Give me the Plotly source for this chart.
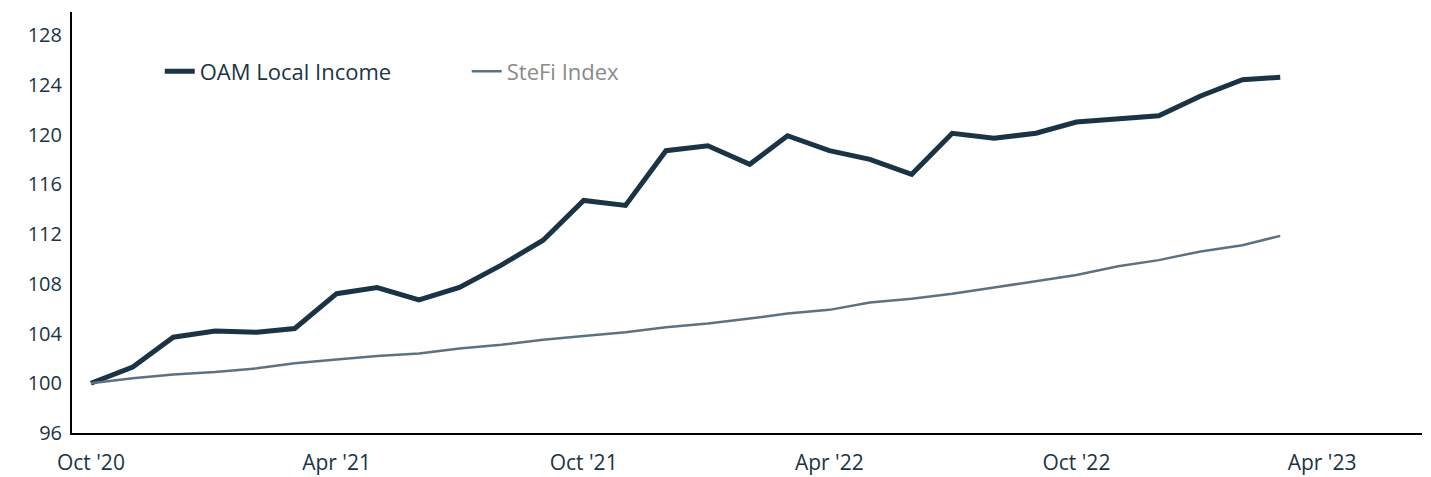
import plotly.graph_objects as go
import pandas as pd

months = pd.date_range("2020-10-01", periods=30, freq="MS").strftime("%Y-%m-%d").tolist()

oam_local_income = [100.0, 101.3, 103.7, 104.2, 104.1, 104.4, 107.2, 107.7, 106.7, 107.7,
                    109.5, 111.5, 114.7, 114.3, 118.7, 119.1, 117.6, 119.9, 118.7, 118.0,
                    116.8, 120.1, 119.7, 120.1, 121.0, 121.3, 121.5, 123.1, 124.4, 124.6]

stefi_index = [100.0, 100.4, 100.7, 100.9, 101.2, 101.6, 101.9, 102.2, 102.4, 102.8,
               103.1, 103.5, 103.8, 104.1, 104.5, 104.8, 105.2, 105.6, 105.9, 106.5,
               106.8, 107.2, 107.7, 108.2, 108.7, 109.4, 109.9, 110.6, 111.1, 111.85]

tick_dates = ["2020-10-01", "2021-04-01", "2021-10-01", "2022-04-01", "2022-10-01", "2023-04-01"]
tick_labels = ["Oct '20", "Apr '21", "Oct '21", "Apr '22", "Oct '22", "Apr '23"]
y_ticks = [96, 100, 104, 108, 112, 116, 120, 124, 128]

FONT = "Open Sans, sans-serif"
NAVY = "#1b3445"

fig = go.Figure()
fig.add_trace(go.Scatter(x=months, y=oam_local_income, mode="lines", name="OAM Local Income",
                         line=dict(color=NAVY, width=5)))
fig.add_trace(go.Scatter(x=months, y=stefi_index, mode="lines",
                         name="<span style='color:#8a8a8a'>SteFi Index</span>",
                         line=dict(color="#5c7283", width=2.5)))

fig.update_layout(
    width=1431, height=477,
    margin=dict(l=72, r=9, t=12, b=44),
    paper_bgcolor="white", plot_bgcolor="white",
    font=dict(family=FONT, size=20, color=NAVY),
    showlegend=True,
    legend=dict(orientation="h", x=0.065, y=0.859, xanchor="left", yanchor="middle",
                bgcolor="rgba(0,0,0,0)", entrywidth=262, entrywidthmode="pixels",
                font=dict(family=FONT, size=22, color=NAVY)),
    xaxis=dict(type="date", range=["2020-09-17", "2023-06-14"],
               tickvals=tick_dates, ticktext=tick_labels, automargin=False,
               showgrid=False, zeroline=False, showline=True, linecolor="black", linewidth=2,
               ticks="", ticklabelstandoff=10,
               tickfont=dict(family=FONT, size=21, color=NAVY)),
    yaxis=dict(range=[96, 129.85], tickvals=y_ticks, automargin=False,
               showgrid=False, zeroline=False, showline=True, linecolor="black", linewidth=2,
               ticks="", ticklabelstandoff=4,
               tickfont=dict(family=FONT, size=20, color=NAVY)),
)

fig.write_html("out.html", config={"displayModeBar": False},
               post_script="document.body.style.margin='0';")
